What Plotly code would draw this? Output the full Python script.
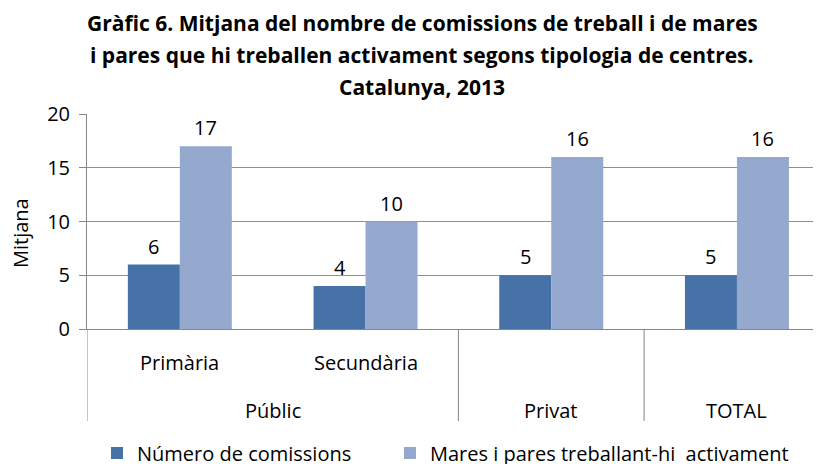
import plotly.graph_objects as go

categories = ["Primària", "Secundària", "Privat", "TOTAL"]
groups = ["Públic", "Privat", "TOTAL"]
series_names = ["Número de comissions", "Mares i pares treballant-hi  activament"]
comissions = [6, 4, 5, 5]
mares_pares = [17, 10, 16, 16]
y_ticks = [0, 5, 10, 15, 20]
title_lines = [
    "Gràfic 6. Mitjana del nombre de comissions de treball i de mares",
    "i pares que hi treballen activament segons tipologia de centres.",
    "Catalunya, 2013",
]
y_title = "Mitjana"

FONT = "Open Sans"
FS = 20
TFS = 21
DARK = "#4672A7"
LIGHT = "#95A9CF"
AXIS = "#878787"

# the page body adds an 8px offset; size the figure so it fits the window
OFF = 8
W, H = 821 - OFF, 464 - OFF
L, R, T, B = 87 - OFF, 0, 114 - OFF, 464 - 329
plot_h = H - T - B
plot_w = W - L - R
cat_px = 185.7

def py(p):
    return (H - B - (p - OFF)) / plot_h

def px(p):
    return ((p - OFF) - L) / plot_w

fig = go.Figure()
fig.add_trace(go.Bar(x=categories, y=comissions, name=series_names[0],
                     marker=dict(color=DARK, line=dict(width=0)), legend="legend"))
fig.add_trace(go.Bar(x=categories, y=mares_pares, name=series_names[1],
                     marker=dict(color=LIGHT, line=dict(width=0)), legend="legend2"))

ann = []
half = 0.14
for i, (a, b) in enumerate(zip(comissions, mares_pares)):
    for off, v in ((-half, a), (half, b)):
        ann.append(dict(x=i + off, y=v, xref="x", yref="y", text=str(v),
                        showarrow=False, yanchor="bottom", yshift=3,
                        font=dict(family=FONT, size=FS, color="black")))

# category labels (inner level)
for i, c in enumerate(categories[:2]):
    ann.append(dict(x=i, y=py(362), xref="x", yref="paper", text=c,
                    showarrow=False, yanchor="middle",
                    font=dict(family=FONT, size=FS, color="black")))
# outer level
for xpos, g in zip([0.5, 2, 3], groups):
    ann.append(dict(x=xpos, y=py(410), xref="x", yref="paper", text=g,
                    showarrow=False, yanchor="middle",
                    font=dict(family=FONT, size=FS, color="black")))

# title
for yy, t in zip([23, 55, 87], title_lines):
    ann.append(dict(x=px(422), y=py(yy), xref="paper", yref="paper",
                    text="<b>" + t + "</b>", showarrow=False, yanchor="middle",
                    xanchor="center", font=dict(family=FONT, size=TFS, color="black")))

ann.append(dict(x=px(20), y=py(233), xref="paper", yref="paper", text=y_title,
                textangle=-90, showarrow=False, xanchor="center", yanchor="middle",
                font=dict(family=FONT, size=FS, color="black")))

shapes = []
for xs in [-0.5, 1.5, 2.5]:
    shapes.append(dict(type="line", xref="x", yref="paper", x0=xs, x1=xs,
                       y0=0, y1=py(421), line=dict(color=AXIS, width=1)))

legend_style = dict(orientation="h", yanchor="middle", xanchor="left",
                    font=dict(family=FONT, size=FS, color="black"),
                    itemwidth=30, bgcolor="rgba(0,0,0,0)")

span = plot_w / cat_px
fig.update_layout(
    width=W, height=H,
    margin=dict(l=L, r=R, t=T, b=B, autoexpand=False),
    paper_bgcolor="white", plot_bgcolor="white",
    barmode="group", bargap=0.44, bargroupgap=0,
    showlegend=True,
    legend=dict(x=px(97), y=py(453), **legend_style),
    legend2=dict(x=px(390), y=py(453), **legend_style),
    annotations=ann, shapes=shapes,
    font=dict(family=FONT, size=FS, color="black"),
)
fig.update_xaxes(type="category", range=[-0.5, -0.5 + span], showticklabels=False,
                 showline=True, linecolor=AXIS, linewidth=1, ticks="",
                 showgrid=False, zeroline=False)
fig.update_yaxes(range=[0, 20], tickvals=y_ticks, showline=True, linecolor=AXIS,
                 linewidth=1, ticks="outside", ticklen=7, tickcolor=AXIS,
                 showgrid=True, gridcolor="#8F8F8F", gridwidth=1, zeroline=False,
                 tickfont=dict(family=FONT, size=FS, color="black"),
                 ticklabelstandoff=5)

fig.write_html("out.html")
